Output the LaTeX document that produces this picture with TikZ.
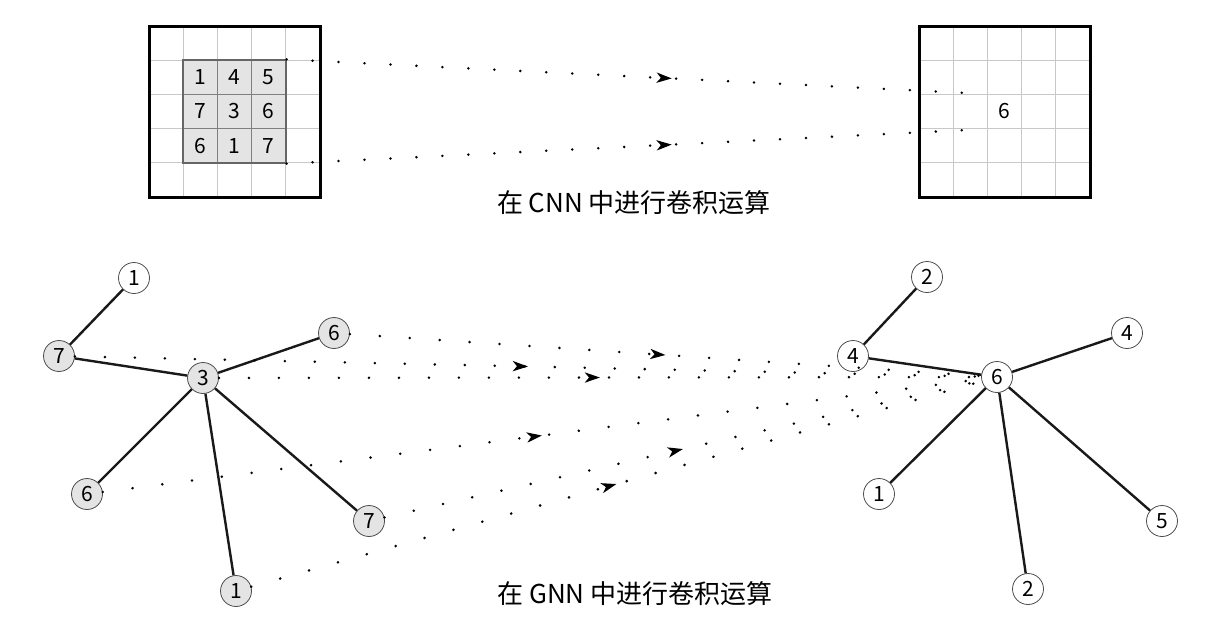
\documentclass[tikz,border=0pt]{standalone}
\usepackage{fontspec}
\setmainfont{Noto Sans CJK SC}
\usetikzlibrary{positioning,arrows.meta,decorations.markings}

\definecolor{cellgray}{HTML}{E4E4E4}
\definecolor{gridgray}{HTML}{C8C8C8}

\begin{document}
\begin{tikzpicture}[x=0.5pt,y=-0.5pt,
    vertex/.style = {draw=black!70, circle, minimum size=15.5pt, inner sep=0pt, font=\fontsize{10.5}{11}\selectfont},
    gvertex/.style = {vertex, fill=cellgray},
    edge/.style = {line width=1.2pt, black!90},
    cellnum/.style = {draw=black!50, fill=cellgray, minimum size=17.1pt, inner sep=0pt, font=\fontsize{10.5}{11}\selectfont},
    frame/.style = {draw, line width=1.5pt, minimum size=85.5pt, inner sep=0pt},
    flow/.style = {line width=1.4pt, line cap=round, dash pattern=on 0pt off 15pt,
        postaction={decorate}, decoration={markings,
        mark=at position #1 with {\arrow{Stealth[length=7.5pt,width=5pt,inset=2pt]}}}},
    flow/.default = 0.5,
    title/.style = {font=\fontsize{13}{15}\selectfont}]
    \useasboundingbox (0,0) rectangle (1226,628);

    % CNN grids
    \foreach \k in {1,...,4} {
        \draw[gridgray, line width=0.6pt] (149+34.2*\k,26) -- (149+34.2*\k,197);
        \draw[gridgray, line width=0.6pt] (149,26+34.2*\k) -- (320,26+34.2*\k);
        \draw[gridgray, line width=0.6pt] (919+34.2*\k,26) -- (919+34.2*\k,197);
        \draw[gridgray, line width=0.6pt] (919,26+34.2*\k) -- (1090,26+34.2*\k);
    }
    \foreach \row [count=\r from 0] in {{1,4,5},{7,3,6},{6,1,7}}
        \foreach \v [count=\c from 0] in \row
            \node[cellnum] (k\r\c) at (200.3+34.2*\c,77.3+34.2*\r) {\v};
    \node[draw=black!60, line width=0.8pt, minimum size=51.3pt, inner sep=0pt] (kern) at (234.5,111.5) {};
    \node[frame] (inp) at (234.5,111.5) {};
    \node[frame] (outp) at (1004.5,111.5) {};
    \node[minimum size=17.1pt, inner sep=0pt, font=\fontsize{10.5}{11}\selectfont] (tgt) at (1004.5,111.5) {6};

    \draw[flow=0.55, dash pattern=on 0pt off 13pt] (kern.north east) -- (tgt.north west);
    \draw[flow=0.55, dash pattern=on 0pt off 13pt] (kern.south east) -- (tgt.south west);

    \node[title] (cnntitle) at (634,203) {在 CNN 中进行卷积运算};

    % GNN graphs
    \node[vertex] (a1) at (134,278) {1};
    \node[gvertex] (a7) at (59,356) {7};
    \node[gvertex] (a3) at (203,378) {3};
    \node[gvertex] (a6) at (334,333) {6};
    \node[gvertex] (b6) at (87,494) {6};
    \node[gvertex] (b7) at (369,521) {7};
    \node[gvertex] (b1) at (236,591) {1};

    \node[vertex] (c2) at (927,277) {2};
    \node[vertex] (c4) at (853,356) {4};
    \node[vertex] (c6) at (997,377) {6};
    \node[vertex] (d4) at (1127,333) {4};
    \node[vertex] (d1) at (879,494) {1};
    \node[vertex] (d5) at (1162,521) {5};
    \node[vertex] (d2) at (1028,589) {2};

    \foreach \u/\w in {a1/a7, a7/a3, a3/a6, a3/b6, a3/b1, a3/b7,
                       c2/c4, c4/c6, c6/d4, c6/d1, c6/d2, c6/d5}
        \draw[edge] (\u) -- (\w);

    \foreach \u in {a7, a3, a6, b6, b7, b1}
        \draw[flow] (\u) -- (c6);

    \node[title] (gnntitle) at (635,594) {在 GNN 中进行卷积运算};
\end{tikzpicture}
\end{document}
